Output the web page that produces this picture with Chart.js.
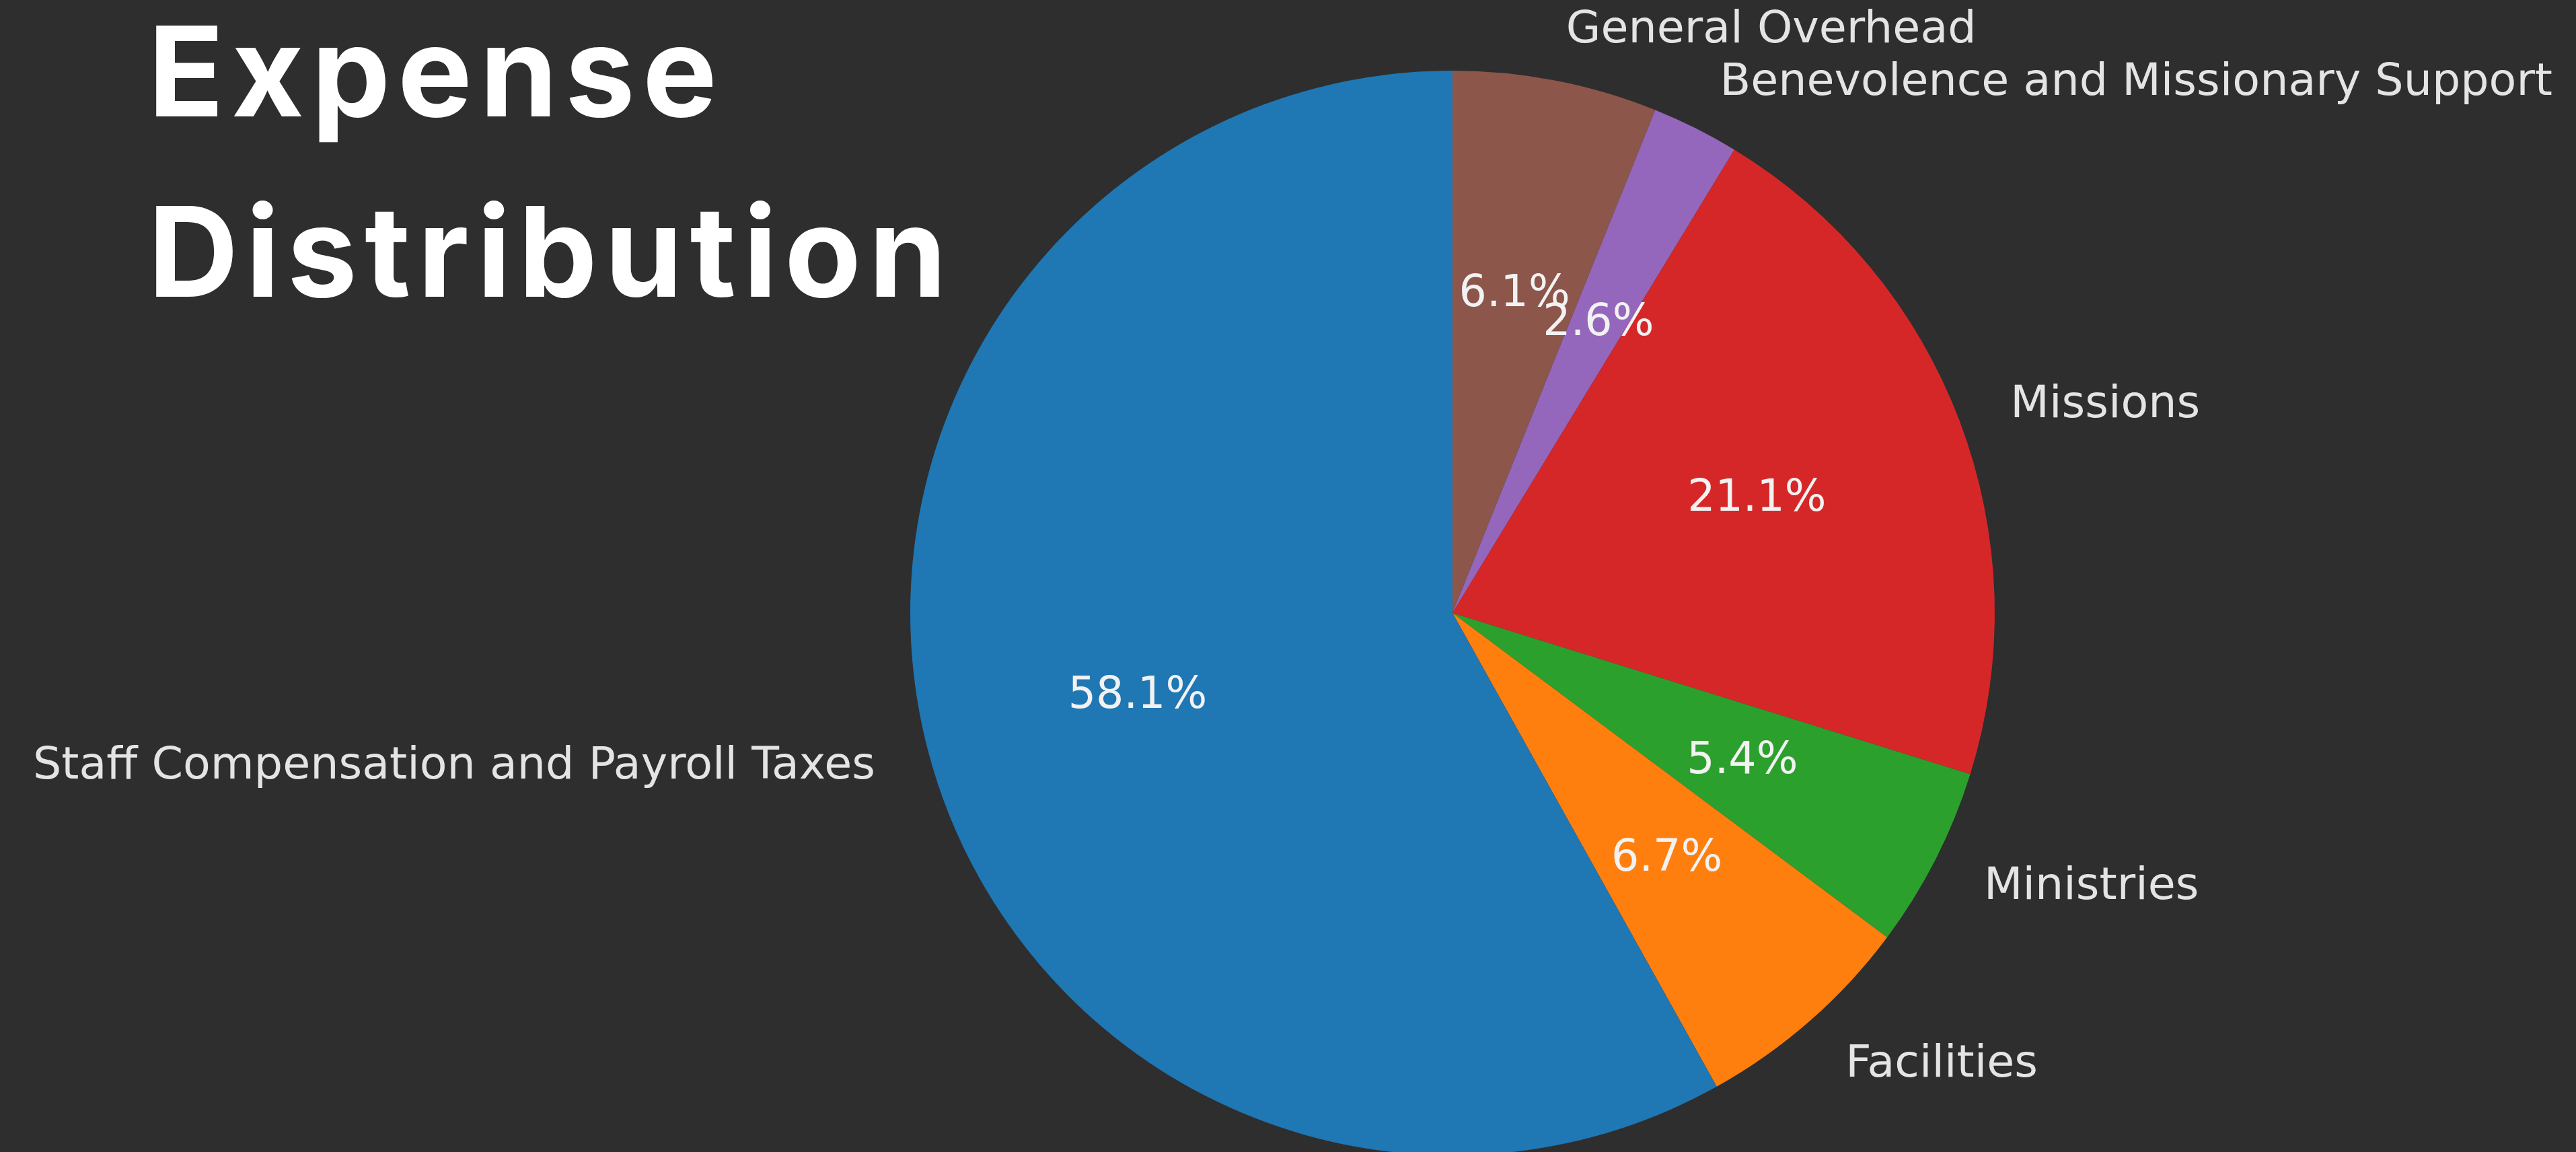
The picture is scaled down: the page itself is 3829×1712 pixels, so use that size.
<!DOCTYPE html>
<html>
<head>
<meta charset="utf-8">
<script src="https://cdn.jsdelivr.net/npm/chart.js@4.4.1/dist/chart.umd.min.js"></script>
<style>
  html, body { margin: 0; padding: 0; background: #2e2e2e; overflow: hidden; }
  #wrap { position: relative; width: 3829px; height: 1720px; }
</style>
</head>
<body>
<div id="wrap"><canvas id="expenseChart"></canvas></div>
<script>
// Expense data (clockwise from 12 o'clock)
const categories = ['General Overhead', 'Benevolence and Missionary Support', 'Missions', 'Ministries', 'Facilities', 'Staff Compensation and Payroll Taxes'];
const shares = [6.1, 2.6, 21.1, 5.4, 6.7, 58.1];
const sliceColors = ['#8c564b', '#9467bd', '#d62728', '#2ca02c', '#ff7f0e', '#1f77b4'];
const titleLines = ['Expense', 'Distribution'];

// labels outside (1.1 r) and percentages inside (0.6 r), like matplotlib
const pieLabels = {
  id: 'pieLabels',
  afterDatasetsDraw(chart) {
    const ctx = chart.ctx;
    const arcs = chart.getDatasetMeta(0).data;
    ctx.save();
    ctx.textBaseline = 'middle';
    ctx.font = '66.7px "DejaVu Sans"';
    arcs.forEach((arc, i) => {
      const mid = (arc.startAngle + arc.endAngle) / 2;
      const r = arc.outerRadius;
      const lx = arc.x + Math.cos(mid) * r * 1.1;
      const ly = arc.y + Math.sin(mid) * r * 1.1 + 5;
      ctx.fillStyle = '#e4e4e4';
      ctx.textAlign = lx > arc.x ? 'left' : 'right';
      ctx.fillText(categories[i], lx, ly);
    });
    ctx.font = '65px "DejaVu Sans"';
    arcs.forEach((arc, i) => {
      const mid = (arc.startAngle + arc.endAngle) / 2;
      const r = arc.outerRadius;
      ctx.fillStyle = '#f2f2f2';
      ctx.textAlign = 'center';
      ctx.fillText(shares[i].toFixed(1) + '%', arc.x + Math.cos(mid) * r * 0.6, arc.y + Math.sin(mid) * r * 0.6 + 2);
    });
    // title
    ctx.fillStyle = '#ffffff';
    ctx.textAlign = 'left';
    ctx.textBaseline = 'alphabetic';
    ctx.font = '700 186px Inter';
    ctx.letterSpacing = '11px';
    ctx.fillText(titleLines[0], 220, 173);
    ctx.fillText(titleLines[1], 220, 441);
    ctx.restore();
  }
};

new Chart(document.getElementById('expenseChart'), {
  type: 'pie',
  data: {
    labels: categories,
    datasets: [{
      data: shares,
      backgroundColor: sliceColors,
      borderWidth: 0,
      hoverOffset: 0
    }]
  },
  options: {
    responsive: true,
    maintainAspectRatio: false,
    devicePixelRatio: 1,
    animation: false,
    layout: { padding: { left: 1353, top: 105, right: 864, bottom: 3 } },
    plugins: {
      legend: { display: false },
      tooltip: { enabled: false }
    }
  },
  plugins: [pieLabels]
});
</script>
</body>
</html>
